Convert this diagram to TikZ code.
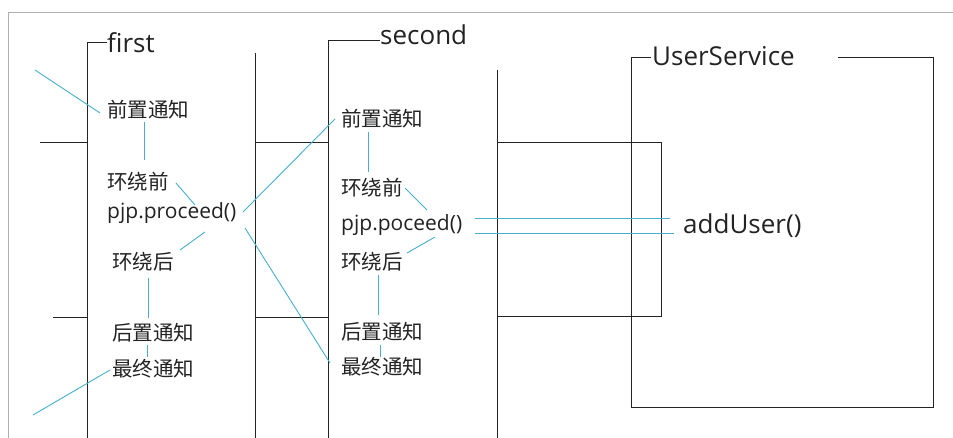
\documentclass[tikz,border=0pt]{standalone}
\usepackage{fontspec}
\setmainfont{Open Sans}
\newfontfamily\cjk{Noto Sans CJK SC}
\usetikzlibrary{calc}
\definecolor{flow}{RGB}{70,175,205}
\definecolor{ink}{RGB}{35,35,35}
\definecolor{framegray}{RGB}{175,175,175}
\begin{document}
\begin{tikzpicture}[x=1pt,y=-1pt,
  box/.style={draw=ink,line width=1pt},
  flowline/.style={draw=flow,line width=0.9pt},
  lbl/.style={anchor=west,inner sep=0pt,text=ink,font=\fontsize{21}{21}\selectfont},
  zh/.style={anchor=west,inner sep=0pt,text=ink,font=\cjk\fontsize{20.5}{21}\selectfont},
  ttl/.style={anchor=base west,inner sep=0pt,text=ink,font=\fontsize{26}{26}\selectfont}]
\useasboundingbox (0,0) rectangle (953,438);
\fill[white] (0,0) rectangle (953,438);

% outer frame
\draw[framegray,line width=0.8pt] (8,438) -- (8,12) -- (953,12);

% aspect "first"
\node[ttl] (tfirst) at (107,53) {first};
\draw[box] (tfirst.west |- 0,43) -- (87,43) -- (87,440);
\draw[box] (255,53) -- (255,440);
\draw[box] (40,143) -- (87,143);
\draw[box] (53,318) -- (87,318);
\draw[box] (255,143) -- (328,143);
\draw[box] (255,318) -- (328,318);

% aspect "second"
\node[ttl] (tsecond) at (380,45) {second};
\draw[box] (tsecond.west |- 0,41) -- (328,41) -- (328,440);
\draw[box] (497,70) -- (497,440);
\draw[box] (497,143) -- (661,143) -- (661,317) -- (497,317);

% target object
\node[ttl] (tuser) at (652,66) {UserService};
\draw[box] (651,58) -- (631,58) -- (631,407) -- (933,407) -- (933,58) -- (838,58);
\node[ttl] (add) at (683,234) {addUser()};

% advice of "first"
\node[zh]  (f1) at (107,110) {前置通知};
\node[zh]  (f2) at (107,182) {环绕前};
\node[lbl] (f3) at (107,213) {pjp.proceed()};
\node[zh]  (f4) at (112,262) {环绕后};
\node[zh]  (f5) at (112,333) {后置通知};
\node[zh]  (f6) at (112,369) {最终通知};

% advice of "second"
\node[zh]  (s1) at (341,119) {前置通知};
\node[zh]  (s2) at (341,188) {环绕前};
\node[lbl] (s3) at (341,225) {pjp.poceed()};
\node[zh]  (s4) at (341,262) {环绕后};
\node[zh]  (s5) at (341,332) {后置通知};
\node[zh]  (s6) at (341,367) {最终通知};

\coordinate (callin) at (35,70);
\coordinate (callout) at (33,415);

% call flow through "first"
\draw[flowline] (callin) -- ($(f1.west)+(-7,3)$);
\draw[flowline] ($(f1.west)+(37,12)$) -- ($(f2.west)+(37,-22)$);
\draw[flowline] ($(f2.west)+(69,1)$) -- ($(f3.west)+(88,-8)$);
\draw[flowline] ($(f4.west)+(68,-12)$) -- ($(f3.west)+(98,19)$);
\draw[flowline] ($(f4.west)+(36,16)$) -- ($(f5.west)+(36,-15)$);
\draw[flowline] ($(f5.west)+(35,12)$) -- ($(f6.west)+(35,-12)$);
\draw[flowline] ($(f6.west)+(-2,1)$) -- (callout);

% hand-over between the two aspects
\draw[flowline] ($(f3.west)+(136,-1)$) -- ($(s1.west)+(-6,0)$);
\draw[flowline] ($(f3.west)+(138,15)$) -- ($(s6.west)+(-11,-4)$);

% call flow through "second"
\draw[flowline] ($(s1.west)+(27,13)$) -- ($(s2.west)+(27,-16)$);
\draw[flowline] ($(s2.west)+(64,0)$) -- ($(s3.west)+(86,-15)$);
\draw[flowline] ($(s4.west)+(66,-9)$) -- ($(s3.west)+(94,12)$);
\draw[flowline] ($(s4.west)+(37,13)$) -- ($(s5.west)+(37,-17)$);
\draw[flowline] ($(s5.west)+(39,13)$) -- ($(s6.west)+(39,-10)$);

% invocation of the target method
\draw[flowline] ($(s3.west)+(134,-7)$) -- (670,218);
\draw[flowline] ($(s3.west)+(134,8)$) -- (674,233);
\end{tikzpicture}
\end{document}
